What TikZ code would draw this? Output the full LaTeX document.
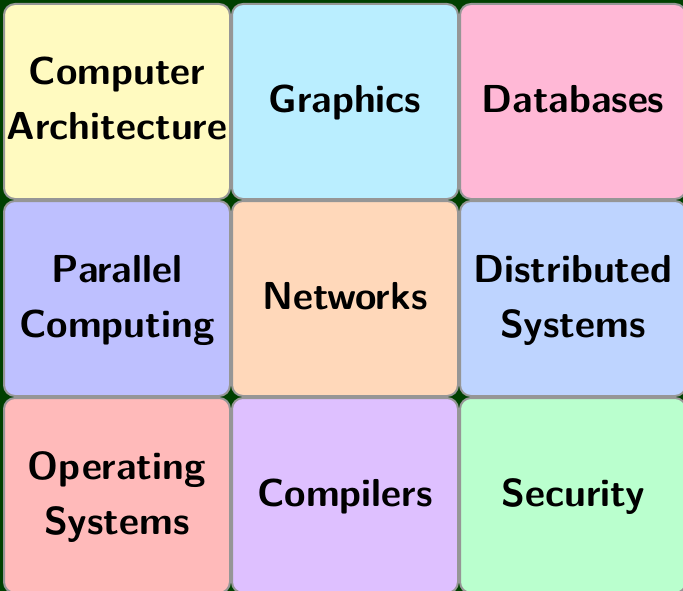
\documentclass[tikz,border=0pt]{standalone}
\usepackage{xcolor}
\definecolor{bgdark}{RGB}{0,64,0}
\definecolor{edgegray}{RGB}{150,150,150}
\definecolor{cYellow}{RGB}{255,250,192}
\definecolor{cCyan}{RGB}{186,238,255}
\definecolor{cPink}{RGB}{255,184,214}
\definecolor{cPeri}{RGB}{190,192,255}
\definecolor{cPeach}{RGB}{255,216,186}
\definecolor{cSky}{RGB}{190,212,255}
\definecolor{cSalmon}{RGB}{255,186,186}
\definecolor{cLilac}{RGB}{222,192,255}
\definecolor{cMint}{RGB}{186,255,206}
% each text line carries a strut so all labels share one baseline rule
\newcommand{\tl}[1]{\strut#1}
\tikzset{
  tile/.style={draw=edgegray, line width=2pt, rounded corners=11pt,
    minimum width=226pt, minimum height=195pt, inner sep=0pt,
    align=center, text=black,
    font=\sffamily\bfseries\fontsize{39}{55}\selectfont},
}
\begin{document}
\begin{tikzpicture}[x=1pt, y=-1pt]
  % dark backdrop and fixed frame
  \fill[bgdark] (0,0) rectangle (683,591);
  \useasboundingbox (0,0) rectangle (683,591);
  % row 1
  \node[tile, fill=cYellow] (arch)  at (117,101.5) {\tl{Computer}\\\tl{Architecture}};
  \node[tile, fill=cCyan]   (gfx)   at (345,101.5) {\tl{Graphics}};
  \node[tile, fill=cPink]   (db)    at (573,101.5) {\tl{Databases}};
  % row 2
  \node[tile, fill=cPeri]   (par)   at (117,298.5) {\tl{Parallel}\\\tl{Computing}};
  \node[tile, fill=cPeach]  (net)   at (345,298.5) {\tl{Networks}};
  \node[tile, fill=cSky]    (dist)  at (573,298.5) {\tl{Distributed}\\\tl{Systems}};
  % row 3
  \node[tile, fill=cSalmon] (os)    at (117,495.5) {\tl{Operating}\\\tl{Systems}};
  \node[tile, fill=cLilac]  (comp)  at (345,495.5) {\tl{Compilers}};
  \node[tile, fill=cMint]   (sec)   at (573,495.5) {\tl{Security}};
\end{tikzpicture}
\end{document}
